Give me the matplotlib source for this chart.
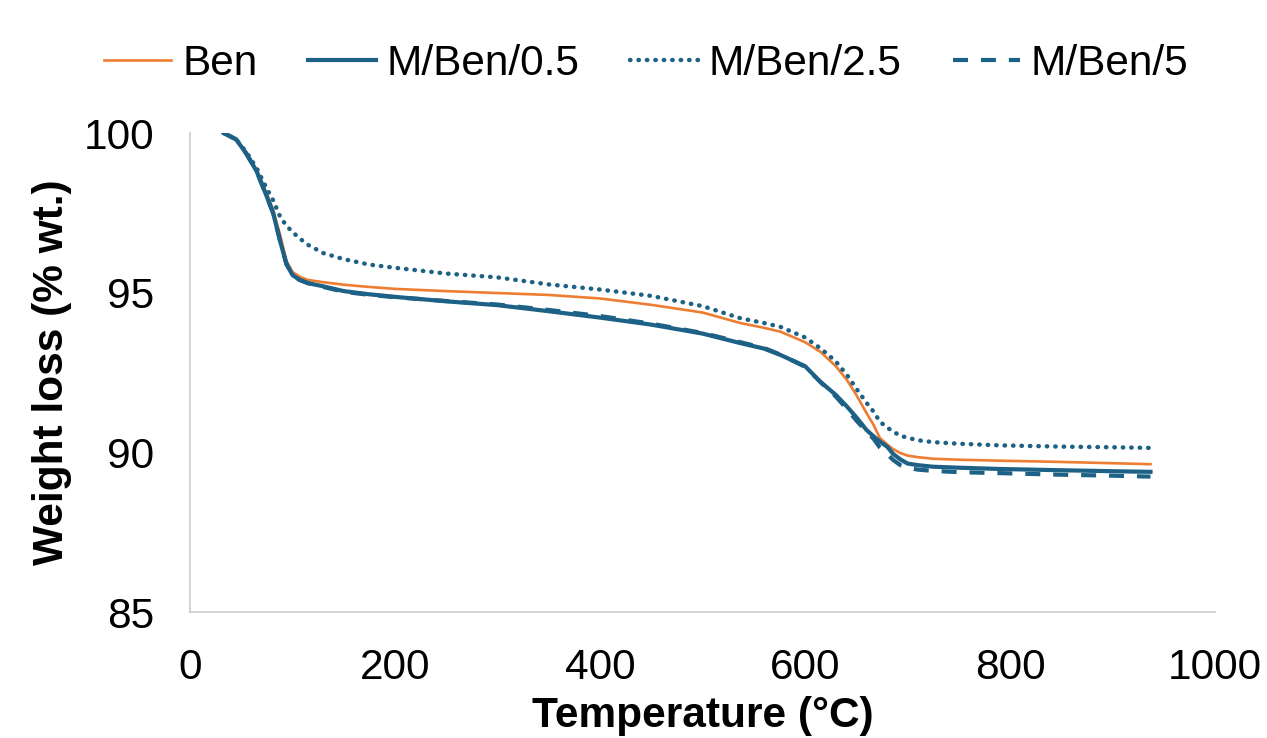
import matplotlib
matplotlib.use('Agg')
import matplotlib.pyplot as plt

plt.rcParams['font.family'] = ['Liberation Sans', 'DejaVu Sans']

# Temperature (°C) readings
temp = [33, 45, 55, 65, 75, 81, 88, 94, 100, 107, 115, 130, 150, 175, 200, 250, 300, 350,
        400, 450, 500, 537, 560, 576, 600, 615, 630, 641, 650, 660, 667, 673, 680, 686,
        693, 700, 710, 725, 750, 790, 850, 900, 937]

ben = [100.0, 99.8, 99.4, 98.84, 98.1, 97.6, 96.8, 96.0, 95.65, 95.5, 95.4, 95.33, 95.25,
       95.18, 95.12, 95.05, 94.99, 94.93, 94.82, 94.62, 94.38, 94.05, 93.9, 93.78, 93.45,
       93.15, 92.7, 92.26, 91.8, 91.23, 90.85, 90.45, 90.25, 90.1, 89.98, 89.9, 89.85,
       89.8, 89.77, 89.74, 89.7, 89.66, 89.63]

m_ben_05 = [100.0, 99.8, 99.35, 98.8, 98.0, 97.5, 96.6, 95.9, 95.55, 95.4, 95.3, 95.2, 95.05,
            94.95, 94.87, 94.73, 94.61, 94.42, 94.22, 94.0, 93.72, 93.42, 93.25, 93.05, 92.7,
            92.21, 91.8, 91.43, 91.1, 90.7, 90.5, 90.34, 90.18, 89.95, 89.78, 89.65, 89.6,
            89.55, 89.52, 89.48, 89.44, 89.41, 89.39]

m_ben_25 = [100.0, 99.8, 99.4, 98.9, 98.25, 97.9, 97.37, 97.1, 96.9, 96.7, 96.5, 96.24, 96.05,
            95.88, 95.78, 95.6, 95.48, 95.26, 95.1, 94.9, 94.58, 94.2, 94.05, 93.93, 93.6,
            93.26, 92.85, 92.42, 92.0, 91.55, 91.27, 90.96, 90.78, 90.65, 90.52, 90.46, 90.38,
            90.32, 90.27, 90.22, 90.18, 90.16, 90.14]

m_ben_5 = [100.0, 99.8, 99.35, 98.8, 98.0, 97.5, 96.6, 95.9, 95.55, 95.4, 95.3, 95.18, 95.03,
           94.93, 94.86, 94.74, 94.63, 94.46, 94.27, 94.03, 93.74, 93.45, 93.27, 93.06, 92.68,
           92.2, 91.75, 91.35, 91.0, 90.65, 90.42, 90.15, 89.95, 89.76, 89.6, 89.52, 89.46,
           89.42, 89.38, 89.35, 89.3, 89.27, 89.24]

orange = '#ED7D31'
blue = '#1D6186'

fig = plt.figure(figsize=(12.67, 7.38), dpi=100)
ax = fig.add_axes([0.15, 0.1707, 0.809, 0.649])

ax.plot(temp, ben, color=orange, lw=1.9, label='Ben')
ax.plot(temp, m_ben_05, color=blue, lw=3.0, label='M/Ben/0.5')
ax.plot(temp, m_ben_25, color=blue, lw=3.2, linestyle=(0, (0.1, 1.8)),
        dash_capstyle='round', label='M/Ben/2.5')
ax.plot(temp, m_ben_5, color=blue, lw=3.0, linestyle=(0, (3.6, 3.1)), label='M/Ben/5')

ax.set_xlim(0, 1000)
ax.set_ylim(85, 100)
ax.set_xticks([0, 200, 400, 600, 800, 1000])
ax.set_yticks([85, 90, 95, 100])
ax.tick_params(length=0, labelsize=30.5)
ax.tick_params(axis='x', pad=26)
ax.tick_params(axis='y', pad=26)

for side in ['top', 'right']:
    ax.spines[side].set_visible(False)
for side in ['left', 'bottom']:
    ax.spines[side].set_color('#D0D0D0')
    ax.spines[side].set_linewidth(1.3)

ax.set_xlabel('Temperature (°C)', fontsize=30.5, fontweight='bold', labelpad=6)
ax.set_ylabel('Weight loss (% wt.)', fontsize=30.5, fontweight='bold', labelpad=8)

fig.legend(loc='center', bbox_to_anchor=(0.51, 0.913), ncol=4, frameon=False,
           fontsize=30.5, handlelength=1.6, handletextpad=0.25, columnspacing=1.2)

fig.savefig('out.png', dpi=100)
